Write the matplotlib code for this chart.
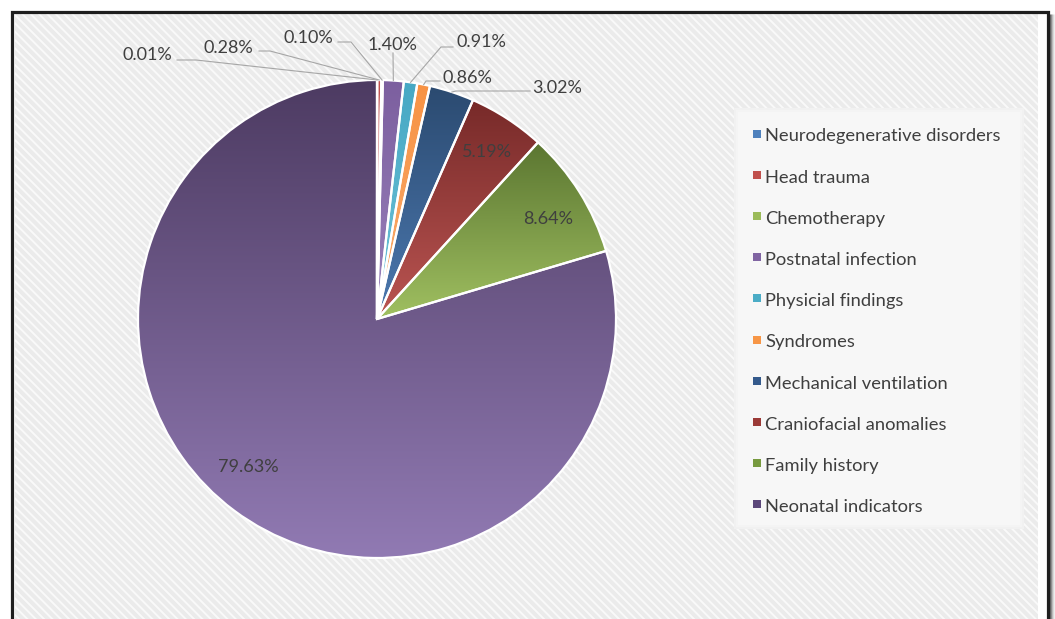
import numpy as np
import matplotlib.pyplot as plt
from matplotlib.colors import LinearSegmentedColormap
from matplotlib.patches import Rectangle

plt.rcParams['font.family'] = ['Lato', 'DejaVu Sans']
plt.rcParams['hatch.linewidth'] = 1.4

W, H = 1055, 619

# risk factor categories and their share of cases (%)
categories = ['Neurodegenerative disorders', 'Head trauma', 'Chemotherapy',
              'Postnatal infection', 'Physicial findings', 'Syndromes',
              'Mechanical ventilation', 'Craniofacial anomalies',
              'Family history', 'Neonatal indicators']
shares = [0.01, 0.28, 0.10, 1.40, 0.91, 0.86, 3.02, 5.19, 8.64, 79.63]

# slice gradients: colour at the top of each slice -> colour at its bottom
top_colors = ['#4f81bd', '#c0504d', '#9bbb59', '#7c5f9f', '#46a8c4', '#f79244',
              '#2b4a70', '#772a29', '#5b7631', '#4d3b62']
bottom_colors = ['#6a98cf', '#d26a66', '#b0cc78', '#9a82bb', '#6fc2d8', '#f9ad70',
                 '#4c79b0', '#bb5552', '#a0c061', '#917ab3']
legend_colors = ['#4f81bd', '#c0504d', '#9bbb59', '#8064a2', '#4bacc6', '#f79646',
                 '#345a8c', '#9b3a37', '#779a3f', '#5b477a']

# label placement in pixel units (x centre, baseline y measured from the top)
outside_labels = {
    0: ((147, 60), (177, 60), (196, 60)),
    1: ((228, 53), (259, 51), (270, 51)),
    2: ((308, 43), (338, 42), (351, 42)),
    3: ((392, 50), (393, 53), (393, 53)),
    4: ((481, 47), (453, 47), (441, 47)),
    5: ((467, 83), (440, 81), (426, 81)),
    6: ((557, 93), (530, 91), (456, 91)),
}
inside_labels = {7: (487, 157), 8: (548, 224), 9: (248, 472)}

center_px = (377, 319)
radius = 239


def to_data(x, y):
    return x, H - y


fig = plt.figure(figsize=(W / 100, H / 100), dpi=100)
ax = fig.add_axes([0, 0, 1, 1])
ax.set_axis_off()

# chart area: white rim, hatched panel and dark frame with a soft shadow
ax.add_patch(Rectangle((11, -10), 1038, H - 11 + 10, facecolor='white',
                       edgecolor='none', zorder=0))
ax.add_patch(Rectangle((15, -10), 1038 - 15, H - 13 + 10, facecolor='#ebebeb',
                       edgecolor='#f9f9f9', linewidth=0, hatch='\\\\\\\\', zorder=0.2))
for k, a in enumerate([0.55, 0.35, 0.2, 0.1, 0.05]):
    ax.plot([1050 + k, 1050 + k], [-5, H - 14], color='black', alpha=a,
            lw=1.0, solid_capstyle='butt', zorder=0.5)
ax.add_patch(Rectangle((11.5, -10), 1036.5, H - 11.5 + 10, fill=False,
                       edgecolor='#1e1e1e', linewidth=2.3, zorder=0.6))

cx, cy = to_data(*center_px)
wedges, _ = ax.pie(shares, center=(cx, cy), radius=radius, startangle=90,
                   counterclock=False, frame=True,
                   wedgeprops=dict(edgecolor='white', linewidth=1.6))

grad = np.linspace(0, 1, 256).reshape(-1, 1)
for w, c0, c1 in zip(wedges, top_colors, bottom_colors):
    ext = w.get_path().get_extents()
    cmap = LinearSegmentedColormap.from_list('g', [c0, c1])
    im = ax.imshow(grad, cmap=cmap, extent=(ext.x0, ext.x1, ext.y0, ext.y1),
                   origin='upper', aspect='auto', interpolation='bicubic', zorder=2)
    im.set_clip_path(w)
    w.set_facecolor('none')
    w.set_zorder(3)

label_kw = dict(fontsize=13, color='#3f3f3f', ha='center', va='baseline', zorder=5)

for i, (txt, anchor, elbow) in outside_labels.items():
    w = wedges[i]
    mid = np.deg2rad((w.theta1 + w.theta2) / 2)
    rim = (cx + radius * np.cos(mid), cy + radius * np.sin(mid))
    ax.text(*to_data(*txt), f'{shares[i]:.2f}%', **label_kw)
    xs = [anchor[0], elbow[0], rim[0]]
    ys = [H - anchor[1], H - elbow[1], rim[1]]
    ax.plot(xs, ys, color='#a6a6a6', lw=0.8, zorder=4)

for i, pos in inside_labels.items():
    ax.text(*to_data(*pos), f'{shares[i]:.2f}%', **label_kw)

# legend panel with a soft rim
for grow, col in [(4, '#f1f1f1'), (2, '#f4f4f4'), (0, '#f7f7f7')]:
    ax.add_patch(Rectangle((738 - grow, H - 525 - grow), 282 + 2 * grow,
                           413 + 2 * grow, facecolor=col, edgecolor='none',
                           zorder=1))
for i, (name, col) in enumerate(zip(categories, legend_colors)):
    y = 136.5 + 41.2 * i
    ax.scatter([757], [H - y + 3], marker='s', s=26, color=col, zorder=5,
               linewidths=0)
    ax.text(765, H - y, name, fontsize=13.2, color='#3f3f3f', ha='left',
            va='center', zorder=5)

ax.set_xlim(0, W)
ax.set_ylim(0, H)

fig.savefig('out.png', dpi=100)
